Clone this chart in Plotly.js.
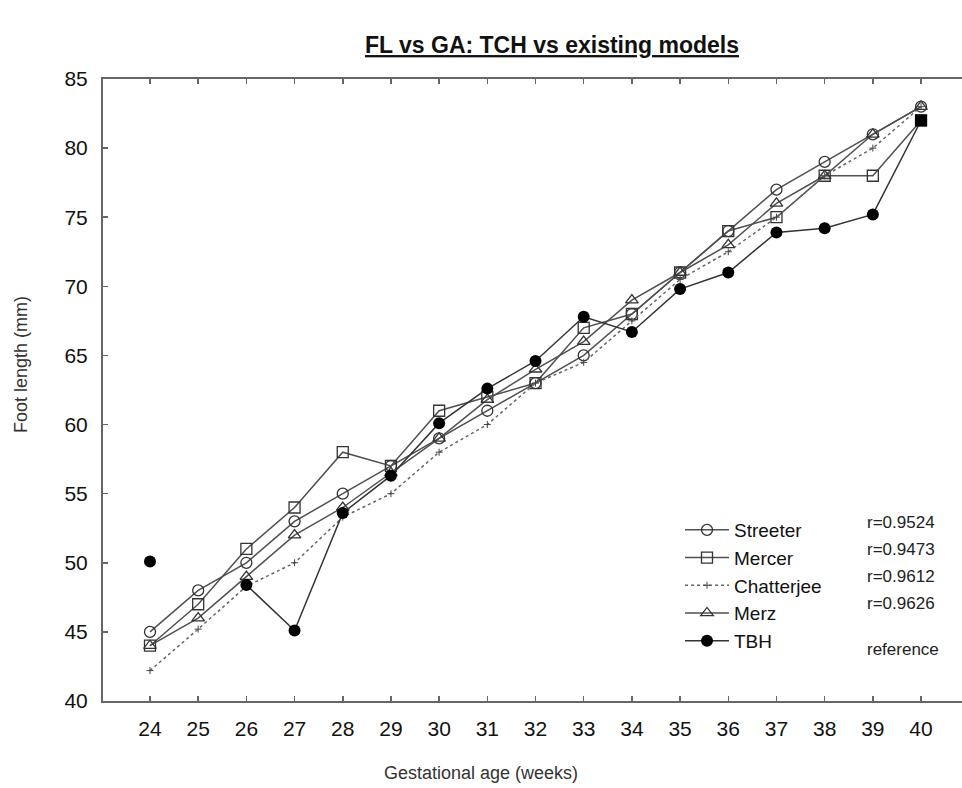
<!DOCTYPE html>
<html>
<head>
<meta charset="utf-8">
<script src="https://cdn.plot.ly/plotly-3.0.1.min.js"></script>
<style>html,body{margin:0;padding:0;background:#fff;}#chart{width:962px;height:788px;}</style>
</head>
<body>
<div id="chart"></div>
<script>
const weeks = [24,25,26,27,28,29,30,31,32,33,34,35,36,37,38,39,40];
const streeter   = [45,48,50,53,55,57,59,61,63,65,68,71,74,77,79,81,83];
const mercer     = [44,47,51,54,58,57,61,62,63,67,68,71,74,75,78,78,82];
const chatterjee = [42.2,45.2,48.3,50,53.3,55,58,60,63,64.5,67.5,70.5,72.5,75,78,80,83];
const merz       = [44,46,49,52,54,56.5,59,61.8,64,66,69,71,73,76,78,81,83];
const tbh        = [50.1,null,48.4,45.1,53.6,56.3,60.1,62.6,64.6,67.8,66.7,69.8,71.0,73.9,74.2,75.2,82];
const seriesNames = ["Streeter","Mercer","Chatterjee","Merz","TBH"];
const rLabels = ["r=0.9524","r=0.9473","r=0.9612","r=0.9626","reference"];

const W = 962, H = 788, ML = 103, MR = 0, MT = 79, MB = 87;
const plotH = H - MT - MB, plotW = W - ML - MR;
const py = p => (H - MB - p) / plotH;
const px = p => (p - ML) / plotW;

const FONT = 'Liberation Sans, Arial, sans-serif';
const lineC = '#505050';
const mk = (sym) => ({symbol: sym, size: 11, color: '#333', line: {color: '#333', width: 1.3}});

const traces = [
  {x: weeks, y: streeter, name: seriesNames[0], mode: 'lines+markers', line: {color: lineC, width: 1.5}, marker: mk('circle-open')},
  {x: weeks, y: mercer, name: seriesNames[1], mode: 'lines+markers', line: {color: lineC, width: 1.5}, marker: mk('square-open')},
  {x: weeks, y: chatterjee, name: seriesNames[2], mode: 'lines+markers', line: {color: '#666', width: 1.5, dash: 'dot'}, marker: {symbol: 'cross-thin-open', size: 5, color: '#444', line: {color: '#444', width: 1}}},
  {x: weeks, y: merz, name: seriesNames[3], mode: 'lines+markers', line: {color: lineC, width: 1.5}, marker: mk('triangle-up-open')},
  {x: weeks, y: tbh, name: seriesNames[4], mode: 'lines+markers', connectgaps: false, line: {color: '#333', width: 1.5},
   marker: {symbol: weeks.map((w,i)=> i === weeks.length-1 ? 'square' : 'circle'), size: 12, color: '#000', line: {width: 0}}}
];

const rY = [522, 549, 576, 603, 649];
const annotations = rLabels.map((t,i)=>({
  text: t, xref: 'paper', yref: 'paper', x: px(865), y: py(rY[i]), xanchor: 'left', yanchor: 'middle',
  showarrow: false, font: {family: FONT, size: 17, color: '#222'}
}));
annotations.push({text: 'Foot length (mm)', xref: 'paper', yref: 'paper', x: px(21), y: py(365), textangle: -90,
  xanchor: 'center', yanchor: 'middle', showarrow: false, font: {family: FONT, size: 18, color: '#333'}});
annotations.push({text: 'Gestational age (weeks)', xref: 'paper', yref: 'paper', x: px(481), y: py(773),
  xanchor: 'center', yanchor: 'middle', showarrow: false, font: {family: FONT, size: 18, color: '#333'}});

const axFont = {family: FONT, size: 21, color: '#111'};
const layout = {
  width: W, height: H,
  margin: {l: ML, r: MR, t: MT, b: MB},
  paper_bgcolor: '#fff', plot_bgcolor: '#fff',
  title: {text: '<u><b>FL vs GA: TCH vs existing models</b></u>', x: px(552), xref: 'paper', xanchor: 'center', y: 1 - 45/H, yanchor: 'middle',
    font: {family: FONT, size: 23, color: '#111'}},
  xaxis: {range: [23.025, 40.85], tickvals: weeks, ticktext: weeks.map(String), showgrid: false, zeroline: false,
    showline: true, linecolor: '#666', linewidth: 2, mirror: 'ticks', ticks: 'inside', ticklen: 5, tickwidth: 1.5, tickcolor: '#666',
    tickfont: axFont, ticklabelstandoff: 8},
  yaxis: {range: [40, 85], dtick: 5, showgrid: false, zeroline: false,
    showline: true, linecolor: '#666', linewidth: 2, ticks: 'inside', ticklen: 5, tickwidth: 1.5, tickcolor: '#666',
    tickfont: axFont, ticklabelstandoff: 9},
  showlegend: true,
  legend: {x: px(680), y: py(511), xanchor: 'left', yanchor: 'top', bgcolor: 'rgba(0,0,0,0)',
    font: {family: FONT, size: 19, color: '#111'}, tracegroupgap: 0, itemwidth: 44},
  annotations: annotations
};
Plotly.newPlot('chart', traces, layout, {displayModeBar: false, staticPlot: true});
</script>
</body>
</html>
